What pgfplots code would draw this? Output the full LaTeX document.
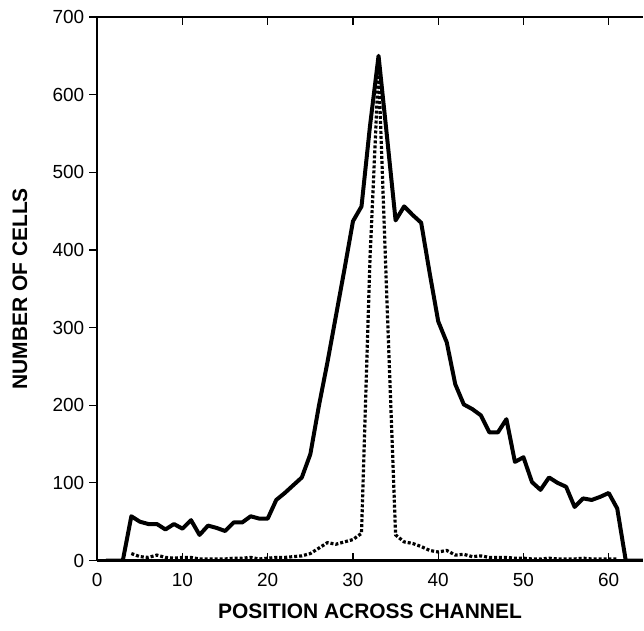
\documentclass[border=0pt]{standalone}
\usepackage{fontspec}
\setmainfont{Liberation Sans}
\usepackage{pgfplots}
\pgfplotsset{compat=1.18}

% total cell counts across the channel
\pgfplotstableread{
x y
1 0
2 0
3 0
4 57
5 50
6 47
7 47
8 40
9 47
10 41
11 52
12 33
13 45
14 42
15 38
16 49
17 49
18 57
19 54
20 54
21 78
22 87
23 97
24 107
25 137
26 199
27 255
28 315
29 375
30 437
31 456
32 560
33 650
34 545
35 438
36 456
37 445
38 435
39 370
40 308
41 281
42 227
43 201
44 195
45 187
46 165
47 165
48 182
49 127
50 133
51 101
52 91
53 107
54 100
55 95
56 69
57 80
58 78
59 82
60 87
61 67
62 0
63 0
64 0
}\totalcells

% second population (dotted)
\pgfplotstableread{
x y
4 9
5 5
6 4
7 7
8 4
9 3
10 4
11 4
12 2
13 2
14 2
15 2
16 3
17 3
18 4
19 2
20 3
21 4
22 4
23 5
24 6
25 9
26 16
27 23
28 21
29 24
30 27
31 35
32 390
33 635
34 330
35 33
36 24
37 22
38 18
39 13
40 11
41 13
42 7
43 8
44 5
45 6
46 4
47 4
48 4
49 3
50 3
51 2
52 2
53 3
54 2
55 2
56 2
57 3
58 2
59 2
60 2
61 2
}\subcells

\begin{document}
\begin{tikzpicture}
\begin{axis}[
    scale only axis,
    width=273.5pt, height=272.5pt,
    xmin=0, xmax=64, ymin=0, ymax=700,
    axis x line*=box, axis y line*=left,
    axis line style={line width=1.2pt},
    axis on top,
    xtick={0,10,...,60}, ytick={0,100,...,700},
    tick align=inside,
    major tick length=4pt,
    tick style={black, line width=0.6pt},
    ytick style={xshift=-4pt},
    ticklabel style={font=\fontsize{9.5}{11}\selectfont},
    /pgf/number format/assume math mode=true,
    yticklabel style={xshift=-3pt},
    xticklabel style={yshift=-3pt},
    xlabel={\textbf{POSITION ACROSS CHANNEL}},
    ylabel={\textbf{NUMBER OF CELLS}},
    every axis x label/.style={at={(axis description cs:0.5,-0.0936)}, anchor=center,
        font=\fontsize{10.5}{12}\selectfont},
    every axis y label/.style={at={(axis description cs:-0.1417,0.5)}, rotate=90, anchor=center,
        font=\fontsize{10.5}{12}\selectfont},
]
\addplot[black, line width=1.6pt, dash pattern=on 1.5pt off 1pt,
    preaction={draw, white, solid, line width=1.6pt}] table[x=x, y=y] {\subcells};
\addplot[black, line width=2pt, line join=round] table[x=x, y=y] {\totalcells};
\end{axis}
\path ([xshift=-48.75pt, yshift=-35pt]current axis.south west)
    rectangle ([yshift=8.5pt]current axis.north east);
\end{tikzpicture}
\end{document}
